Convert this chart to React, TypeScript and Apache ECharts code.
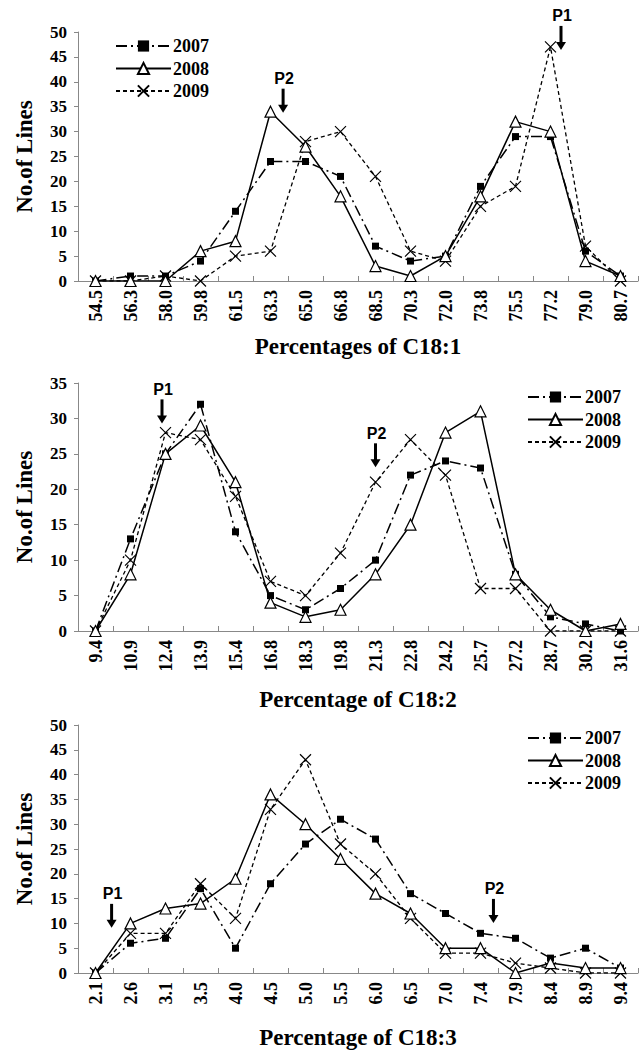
import React, { useEffect, useRef } from "react";
import * as echarts from "echarts";

const years = ["2007", "2008", "2009"];

const cats1 = ["54.5", "56.3", "58.0", "59.8", "61.5", "63.3", "65.0", "66.8", "68.5", "70.3", "72.0", "73.8", "75.5", "77.2", "79.0", "80.7"];
const c1_2007 = [0, 1, 1, 4, 14, 24, 24, 21, 7, 4, 5, 19, 29, 29, 6, 1];
const c1_2008 = [0, 0, 0, 6, 8, 34, 27, 17, 3, 1, 5, 17, 32, 30, 4, 1];
const c1_2009 = [0, 0, 1, 0, 5, 6, 28, 30, 21, 6, 4, 15, 19, 47, 7, 0];

const cats2 = ["9.4", "10.9", "12.4", "13.9", "15.4", "16.8", "18.3", "19.8", "21.3", "22.8", "24.2", "25.7", "27.2", "28.7", "30.2", "31.6"];
const c2_2007 = [0, 13, 25, 32, 14, 5, 3, 6, 10, 22, 24, 23, 8, 2, 1, 0];
const c2_2008 = [0, 8, 25, 29, 21, 4, 2, 3, 8, 15, 28, 31, 8, 3, 0, 1];
const c2_2009 = [0, 10, 28, 27, 19, 7, 5, 11, 21, 27, 22, 6, 6, 0, 0, 0];

const cats3 = ["2.1", "2.6", "3.1", "3.5", "4.0", "4.5", "5.0", "5.5", "6.0", "6.5", "7.0", "7.4", "7.9", "8.4", "8.9", "9.4"];
const c3_2007 = [0, 6, 7, 17, 5, 18, 26, 31, 27, 16, 12, 8, 7, 3, 5, 1];
const c3_2008 = [0, 10, 13, 14, 19, 36, 30, 23, 16, 12, 5, 5, 0, 2, 1, 1];
const c3_2009 = [0, 8, 8, 18, 11, 33, 43, 26, 20, 11, 4, 4, 2, 1, 0, 0];

const xTitles = ["Percentages of C18:1", "Percentage of C18:2", "Percentage of C18:3"];
const yMax = [50, 35, 50];

// peak annotations: grid, fractional category index, value at arrow tip, label
const peakGrid = [0, 0, 1, 1, 2, 2];
const peakIndex = [5.36, 13.3, 1.9, 8.0, 0.46, 11.37];
const peakValue = [33.8, 46.4, 29.3, 23.1, 9.1, 10.1];
const peakLabel = ["P2", "P1", "P1", "P2", "P1", "P2"];

const SERIF = "'Liberation Serif', 'Times New Roman', serif";
const SANS = "'Liberation Sans', Arial, sans-serif";

const grids = [
  { left: 78, width: 560, top: 32, height: 249 },
  { left: 78, width: 560, top: 383, height: 248 },
  { left: 78, width: 560, top: 725, height: 248 },
];
const nameGaps = [54, 57, 53];
const legendPos = [
  { left: 115, top: 37 },
  { left: 527, top: 388 },
  { left: 527, top: 729 },
];

const xSymbol = "path://M0,0L10,10M10,0L0,10";

function makeSeries(gi: number, d7: number[], d8: number[], d9: number[]) {
  return [
    {
      name: "2007",
      type: "line",
      xAxisIndex: gi,
      yAxisIndex: gi,
      data: d7,
      symbol: "rect",
      symbolSize: 7,
      itemStyle: { color: "#000" },
      lineStyle: { color: "#000", width: 1.5, type: [11, 4, 2, 4] },
      z: 3,
    },
    {
      name: "2008",
      type: "line",
      xAxisIndex: gi,
      yAxisIndex: gi,
      data: d8,
      symbol: "triangle",
      symbolSize: 11,
      itemStyle: { color: "#fff", borderColor: "#000", borderWidth: 1.2 },
      lineStyle: { color: "#000", width: 1.5, type: "solid" },
      z: 4,
    },
    {
      name: "2009",
      type: "line",
      xAxisIndex: gi,
      yAxisIndex: gi,
      data: d9,
      symbol: xSymbol,
      symbolSize: 11,
      itemStyle: { color: "#000", borderColor: "#000", borderWidth: 1.2 },
      lineStyle: { color: "#000", width: 1.3, type: [4, 3] },
      z: 2,
    },
  ];
}

export default function App() {
  const ref = useRef<HTMLDivElement>(null);

  useEffect(() => {
    if (!ref.current) return;
    const chart = echarts.init(ref.current, undefined, { renderer: "svg" });
    const allCats = [cats1, cats2, cats3];

    const option: any = {
      animation: false,
      backgroundColor: "#fff",
      grid: grids,
      legend: legendPos.map((p) => ({
        data: years,
        orient: "vertical",
        left: p.left,
        top: p.top,
        itemWidth: 55,
        itemHeight: 14,
        itemGap: 4.5,
        padding: 0,
        selectedMode: false,
        textStyle: { fontFamily: SERIF, fontWeight: "bold", fontSize: 18, color: "#000", padding: [0, 0, 0, -3] },
      })),
      xAxis: allCats.map((c, i) => ({
        type: "category",
        gridIndex: i,
        data: c,
        boundaryGap: true,
        name: xTitles[i],
        nameLocation: "middle",
        nameGap: nameGaps[i],
        nameTextStyle: { fontFamily: SERIF, fontWeight: "bold", fontSize: 23, color: "#000" },
        axisLine: { show: true, lineStyle: { color: "#888", width: 1 } },
        axisTick: { show: true, inside: true, length: 5, lineStyle: { color: "#888" } },
        axisLabel: {
          rotate: 90,
          interval: 0,
          margin: 9,
          fontFamily: SERIF,
          fontWeight: "bold",
          fontSize: 18,
          color: "#000",
        },
        splitLine: { show: false },
      })),
      yAxis: yMax.map((m, i) => ({
        type: "value",
        gridIndex: i,
        min: 0,
        max: m,
        interval: 5,
        name: "No.of Lines",
        nameLocation: "middle",
        nameRotate: 90,
        nameGap: 42,
        nameTextStyle: { fontFamily: SERIF, fontWeight: "bold", fontSize: 23, color: "#000" },
        axisLine: { show: true, lineStyle: { color: "#888", width: 1 } },
        axisTick: { show: true, length: 4, lineStyle: { color: "#888" } },
        axisLabel: { margin: 11, fontFamily: SERIF, fontWeight: "bold", fontSize: 17, color: "#000" },
        splitLine: { show: false },
      })),
      series: [
        ...makeSeries(0, c1_2007, c1_2008, c1_2009),
        ...makeSeries(1, c2_2007, c2_2008, c2_2009),
        ...makeSeries(2, c3_2007, c3_2008, c3_2009),
      ],
    };
    chart.setOption(option);

    // annotations: arrows positioned via axis scales
    const elements: any[] = [];
    peakGrid.forEach((g, k) => {
      const cats = allCats[g];
      const i0 = Math.floor(peakIndex[k]);
      const f = peakIndex[k] - i0;
      const p0 = chart.convertToPixel({ xAxisIndex: g, yAxisIndex: g } as any, [cats[i0], peakValue[k]]) as number[];
      const p1 = chart.convertToPixel({ xAxisIndex: g, yAxisIndex: g } as any, [cats[Math.min(i0 + 1, cats.length - 1)], peakValue[k]]) as number[];
      const x = p0[0] + (p1[0] - p0[0]) * f;
      const tipY = p0[1];
      const topY = tipY - 24;
      elements.push({
        type: "line",
        shape: { x1: x, y1: topY, x2: x, y2: tipY - 7 },
        style: { stroke: "#000", lineWidth: 3 },
        z: 10,
      });
      elements.push({
        type: "polygon",
        shape: { points: [[x - 5, tipY - 8], [x + 5, tipY - 8], [x, tipY]] },
        style: { fill: "#000" },
        z: 10,
      });
      elements.push({
        type: "text",
        x: x + 1,
        y: topY - 10,
        style: {
          text: peakLabel[k],
          fontFamily: SANS,
          fontWeight: "bold",
          fontSize: 16,
          fill: "#000",
          align: "center",
          verticalAlign: "middle",
        },
        z: 10,
      });
    });
    chart.setOption({ graphic: elements });

    return () => chart.dispose();
  }, []);

  return (
    <div
      ref={ref}
      style={{ position: "absolute", left: 0, top: 0, width: 639, height: 1051, background: "#fff" }}
    />
  );
}
